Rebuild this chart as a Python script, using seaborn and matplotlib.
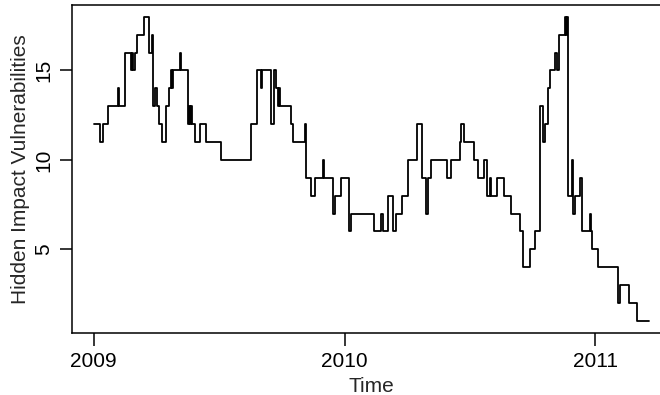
import matplotlib
matplotlib.use("Agg")
import matplotlib.pyplot as plt
import seaborn as sns
import pandas as pd

# change points (decimal year) and the value held from that time on
times = [2009.000, 2009.026, 2009.038, 2009.058, 2009.098, 2009.102, 2009.124, 2009.150,
         2009.154, 2009.158, 2009.163, 2009.173, 2009.199, 2009.222, 2009.234, 2009.238,
         2009.244, 2009.251, 2009.261, 2009.271, 2009.290, 2009.300, 2009.308, 2009.312,
         2009.317, 2009.345, 2009.349, 2009.374, 2009.378, 2009.382, 2009.386, 2009.390,
         2009.402, 2009.424, 2009.447, 2009.509, 2009.629, 2009.651, 2009.665, 2009.669,
         2009.705, 2009.720, 2009.728, 2009.734, 2009.738, 2009.742, 2009.788, 2009.795,
         2009.842, 2009.846, 2009.865, 2009.882, 2009.914, 2009.918, 2009.955, 2009.963,
         2009.984, 2010.017, 2010.027, 2010.117, 2010.145, 2010.154, 2010.174, 2010.194,
         2010.207, 2010.231, 2010.253, 2010.287, 2010.307, 2010.326, 2010.331, 2010.344,
         2010.408, 2010.426, 2010.459, 2010.466, 2010.475, 2010.516, 2010.533, 2010.556,
         2010.567, 2010.579, 2010.585, 2010.609, 2010.636, 2010.665, 2010.698, 2010.712,
         2010.738, 2010.758, 2010.781, 2010.792, 2010.798, 2010.810, 2010.821, 2010.838,
         2010.846, 2010.855, 2010.878, 2010.882, 2010.885, 2010.889, 2010.905, 2010.911,
         2010.918, 2010.938, 2010.947, 2010.979, 2010.983, 2010.986, 2011.010, 2011.090,
         2011.097, 2011.134, 2011.166, 2011.213]
values = [12, 11, 12, 13, 14, 13, 16, 15,
          16, 15, 16, 17, 18, 16, 17, 13,
          14, 13, 12, 11, 13, 14, 15, 14,
          15, 16, 15, 12, 13, 12, 13, 12,
          11, 12, 11, 10, 12, 15, 14, 15,
          12, 15, 14, 13, 14, 13, 12, 11,
          12, 9, 8, 9, 10, 9, 7, 8,
          9, 6, 7, 6, 7, 6, 8, 6,
          7, 8, 10, 12, 9, 7, 9, 10,
          9, 10, 11, 12, 11, 10, 9, 10,
          8, 9, 8, 9, 8, 7, 6, 4,
          5, 6, 13, 11, 12, 14, 15, 16,
          15, 17, 18, 17, 18, 8, 10, 7,
          8, 9, 6, 7, 6, 5, 4, 2,
          3, 2, 1, 1]

x_ticks = [2009, 2010, 2011]
y_ticks = [5, 10, 15]
x_label = "Time"
y_label = "Hidden Impact Vulnerabilities"

df = pd.DataFrame({"Time": times, "Value": values})

sns.set_style("white")
plt.rcParams["font.family"] = ["Liberation Sans", "DejaVu Sans"]

fig = plt.figure(figsize=(6.6, 3.95), dpi=100)
W, H = 660, 395
left, right, top, bottom = 71.5, 671.0, 4.6, 333.0
ax = fig.add_axes([left / W, 1 - bottom / H, (right - left) / W, (bottom - top) / H])

sns.lineplot(data=df, x="Time", y="Value", ax=ax, color="black", linewidth=1.3,
             drawstyle="steps-post", estimator=None, sort=False)

span_x = times[-1] - times[0]
ax.set_xlim(times[0] - 0.04 * span_x, times[-1] + 0.04 * span_x)
span_y = max(values) - min(values)
ax.set_ylim(min(values) - 0.04 * span_y, max(values) + 0.04 * span_y)

ax.set_xticks(x_ticks)
ax.set_xticklabels([str(t) for t in x_ticks])
ax.set_yticks(y_ticks)
ax.set_yticklabels([str(t) for t in y_ticks], rotation=90, va="center")

for s in ax.spines.values():
    s.set_visible(True)
    s.set_color("black")
    s.set_linewidth(1.1)

ax.tick_params(axis="both", which="major", bottom=True, left=True, top=False, right=False,
               direction="out", length=9, width=1.1, colors="black", labelsize=15)
ax.tick_params(axis="x", pad=5)
ax.tick_params(axis="y", pad=4)
ax.set_xlabel(x_label, fontsize=15, labelpad=4)
ax.set_ylabel(y_label, fontsize=15, labelpad=3)

fig.savefig("out.png", dpi=100)
